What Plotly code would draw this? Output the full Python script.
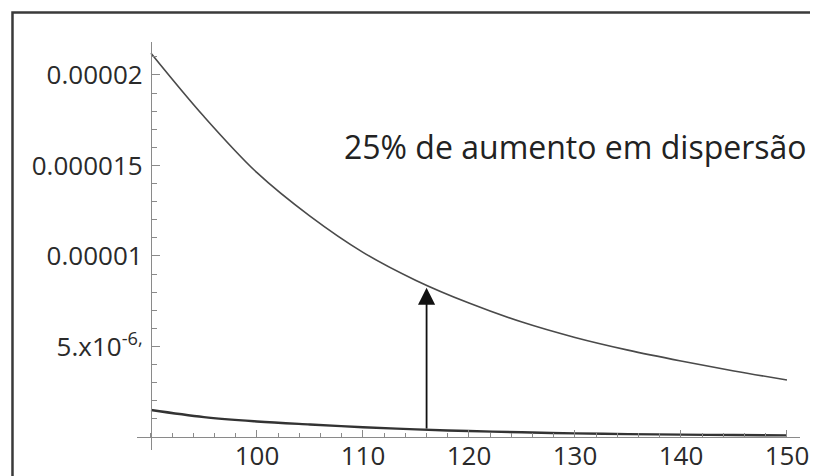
import plotly.graph_objects as go

# valores (y em unidades de 1e-6)
x_vals = [90, 95, 100, 105, 110, 115, 120, 125, 130, 135, 140, 145, 150]
curva_alta = [21.2, 17.7, 14.6, 12.2, 10.2, 8.65, 7.4, 6.35, 5.5, 4.8, 4.2, 3.65, 3.15]
curva_baixa = [1.49, 1.1, 0.86, 0.69, 0.54, 0.42, 0.33, 0.26, 0.2, 0.16, 0.13, 0.11, 0.09]

x_ticks = [100, 110, 120, 130, 140, 150]
y_ticks = [5e-6, 1e-5, 1.5e-5, 2e-5]
y_tick_text = ["5.x10<sup>-6,</sup>", "0.00001", "0.000015", "0.00002"]

seta_x = 116
seta_base = 0.39e-6
seta_topo = 8.25e-6
texto = "25% de aumento em dispersão"

fonte = "Open Sans"
cinza_eixo = "#8a8a8a"

fig = go.Figure()
fig.add_trace(go.Scatter(x=x_vals, y=[v * 1e-6 for v in curva_alta], mode="lines",
                         line=dict(color="#4a4a4a", width=1.6, shape="spline"), showlegend=False))
fig.add_trace(go.Scatter(x=x_vals, y=[v * 1e-6 for v in curva_baixa], mode="lines",
                         line=dict(color="#333333", width=2.4, shape="spline"), showlegend=False))

# seta vertical
fig.add_annotation(x=seta_x, y=seta_topo, ax=seta_x, ay=seta_base, xref="x", yref="y",
                   axref="x", ayref="y", text="", showarrow=True, arrowhead=2,
                   arrowsize=1.9, arrowwidth=1.8, arrowcolor="#111111")

fig.add_annotation(x=0.309, y=0.745, xref="paper", yref="paper", text=texto, showarrow=False,
                   xanchor="left", yanchor="middle", font=dict(family=fonte, size=32, color="#222222"))

# moldura externa (cortada à direita e embaixo)
fig.add_shape(type="rect", xref="paper", yref="paper", x0=-0.1878, x1=1.2, y0=-0.25, y1=1.0723,
              line=dict(color="#3a3a3a", width=2.5))

fig.update_xaxes(range=[88.68, 151.23], anchor="free", position=0.0319, showgrid=False,
                 zeroline=False, showline=True, linecolor=cinza_eixo, linewidth=1.3,
                 tickmode="array", tickvals=x_ticks, ticks="inside", ticklen=7, tickwidth=1.2,
                 tickcolor=cinza_eixo, ticklabelstandoff=-4,
                 tickfont=dict(family=fonte, size=26, color="#2a2a2a"),
                 minor=dict(tickmode="linear", tick0=0, dtick=2, ticks="inside", ticklen=4,
                            tickwidth=1, tickcolor=cinza_eixo),
                 automargin=False)
fig.update_yaxes(range=[-0.718e-6, 21.82e-6], anchor="free", position=0.0211, showgrid=False,
                 zeroline=False, showline=True, linecolor=cinza_eixo, linewidth=1.3,
                 tickmode="array", tickvals=y_ticks, ticktext=y_tick_text, ticks="inside",
                 ticklen=8, tickwidth=1.2, tickcolor=cinza_eixo, ticklabelstandoff=3,
                 tickfont=dict(family=fonte, size=26, color="#2a2a2a"),
                 minor=dict(tickmode="linear", tick0=0, dtick=1e-6, ticks="inside", ticklen=5,
                            tickwidth=1, tickcolor=cinza_eixo),
                 automargin=False)

# a página tem margem de 8 px, por isso as margens já descontam esse deslocamento
fig.update_layout(width=818, height=476, margin=dict(l=129, r=26, t=34, b=34),
                  paper_bgcolor="white", plot_bgcolor="white")

fig.write_html("out.html")
